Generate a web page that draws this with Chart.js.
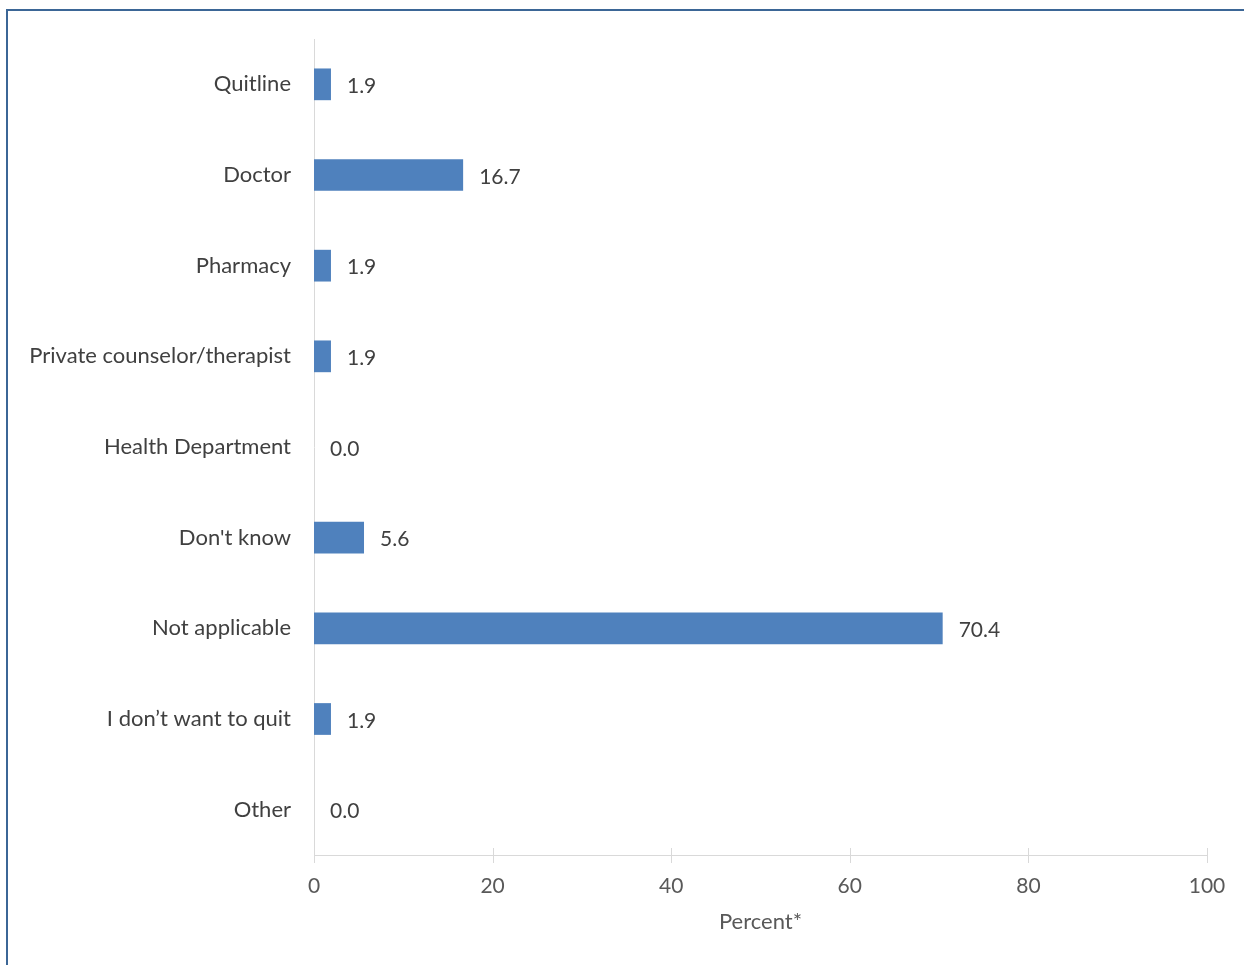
<!DOCTYPE html>
<html>
<head>
<meta charset="utf-8">
<script src="https://cdn.jsdelivr.net/npm/chart.js@4/dist/chart.umd.min.js"></script>
<style>
  html, body { margin: 0; padding: 0; background: #fff; overflow: hidden; }
  .frame { position: absolute; left: 6px; top: 9px; width: 1300px; height: 1000px; border-top: 2px solid #3b6696; border-left: 2px solid #3b6696; }
  #chartWrap { position: absolute; left: 0; top: 0; width: 1244px; height: 965px; }
</style>
</head>
<body>
<div class="frame"></div>
<div id="chartWrap"><canvas id="ChartSources"></canvas></div>
<script>
// categories and values
const categorias = ['Quitline', 'Doctor', 'Pharmacy', 'Private counselor/therapist', 'Health Department',
                    "Don't know", 'Not applicable', 'I don\u2019t want to quit', 'Other'];
const valores = [1.9, 16.7, 1.9, 1.9, 0.0, 5.6, 70.4, 1.9, 0.0];
const xTicks = [0, 20, 40, 60, 80, 100];

const fonte = 'Lato, "Open Sans", sans-serif';

// value labels at the bar ends
const rotulos = {
    id: 'rotulos',
    afterDatasetsDraw(chart) {
        const ctx = chart.ctx;
        const meta = chart.getDatasetMeta(0);
        ctx.save();
        ctx.font = '21px ' + fonte;
        ctx.fillStyle = '#404040';
        ctx.textAlign = 'left';
        ctx.textBaseline = 'middle';
        meta.data.forEach((bar, i) => {
            ctx.fillText(valores[i].toFixed(1), bar.x + 16, bar.y + 2);
        });
        ctx.restore();
    }
};

// tick marks crossing the x axis line
const marcas = {
    id: 'marcas',
    afterDraw(chart) {
        const ctx = chart.ctx;
        const x = chart.scales.x;
        const y = x.top;
        ctx.save();
        ctx.strokeStyle = '#d9d9d9';
        ctx.lineWidth = 1;
        xTicks.forEach(v => {
            const px = Math.round(x.getPixelForValue(v)) + 0.5;
            ctx.beginPath();
            ctx.moveTo(px, y - 7);
            ctx.lineTo(px, y + 8);
            ctx.stroke();
        });
        ctx.restore();
    }
};

const data = {
    labels: categorias,
    datasets: [{
        data: valores,
        backgroundColor: 'rgb(79, 129, 189)',
        barPercentage: 0.7,
        categoryPercentage: 0.5
    }]
};

const config = {
    type: 'bar',
    data: data,
    options: {
        indexAxis: 'y',
        responsive: false,
        animation: false,
        layout: { padding: { top: 39, right: 37, left: 0, bottom: 0 } },
        plugins: { legend: { display: false }, tooltip: { enabled: false } },
        scales: {
            y: {
                afterFit: (s) => { s.width = 314; },
                grid: { display: false },
                border: { display: true, color: '#d9d9d9', width: 1 },
                ticks: { color: '#404040', font: { family: fonte, size: 22 }, padding: 15 }
            },
            x: {
                min: 0,
                max: 100,
                afterFit: (s) => { s.height = 110; },
                afterBuildTicks: (s) => { s.ticks = xTicks.map(v => ({ value: v })); },
                grid: { display: false },
                border: { display: true, color: '#d9d9d9', width: 1 },
                ticks: { color: '#595959', font: { family: fonte, size: 21 }, padding: 11 },
                title: { display: true, text: 'Percent*', color: '#595959', font: { family: fonte, size: 22 }, padding: { top: 6, bottom: 30 } }
            }
        }
    },
    plugins: [rotulos, marcas]
};

const canvas = document.getElementById('ChartSources');
canvas.width = 1244;
canvas.height = 965;
const myChart = new Chart(canvas, config);
</script>
</body>
</html>
